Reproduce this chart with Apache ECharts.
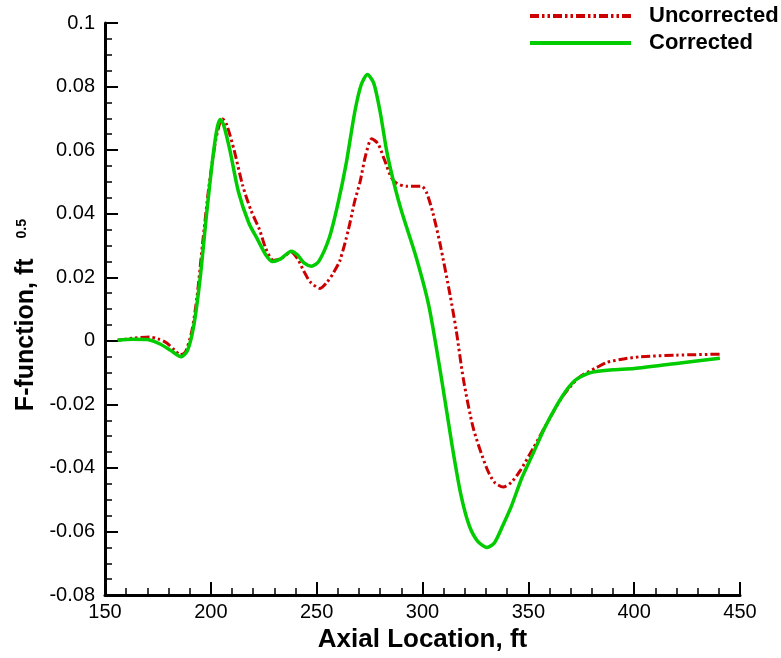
<!DOCTYPE html>
<html>
    <head>
        <meta charset="utf-8">
        <title>F-function</title>
        <script src="https://cdn.jsdelivr.net/npm/echarts@6/dist/echarts.min.js"></script>
        <style>
            body { margin: 0; background: #fff; }
            #chart1 { width: 781px; height: 658px; }
        </style>
    </head>
    <body>
        <div id="chart1"></div>
    </body>

    <script type="text/javascript">
        // values (axial location in ft, F-function)
        var correctedX = [156, 163, 170, 176, 181, 186, 189, 192, 195, 198, 201, 203, 204.5, 206, 209, 213, 218, 222, 226, 229,
            233, 238, 241, 244, 247.5, 251, 256, 260, 264, 268, 271, 274, 277, 280, 283, 286, 290, 297, 303, 309,
            314, 318, 322, 326, 330.5, 334, 338, 342, 347, 352, 358, 366, 372, 378, 383, 390, 400, 420, 440.5];
        var correctedY = [0.0002, 0.0005, 0.0004, -0.001, -0.003, -0.005, -0.003, 0.005, 0.020, 0.040, 0.058, 0.067, 0.0696, 0.068, 0.060, 0.047, 0.037, 0.032, 0.027, 0.025,
            0.0258, 0.0282, 0.027, 0.0245, 0.0235, 0.025, 0.0325, 0.043, 0.056, 0.072, 0.0805, 0.0838, 0.081, 0.072, 0.060, 0.051, 0.041, 0.0263, 0.011, -0.012,
            -0.033, -0.048, -0.058, -0.063, -0.065, -0.0635, -0.058, -0.052, -0.043, -0.0358, -0.027, -0.0175, -0.0125, -0.0103, -0.0096, -0.0091, -0.0087, -0.0071, -0.0055];

        var uncorrectedX = [156, 163, 171, 175, 179, 183, 185.5, 188, 191, 193.5, 196, 199, 202, 204, 205.6, 207.5, 211, 215, 219, 223,
            226, 229.5, 233, 238, 241, 243.7, 247, 251.6, 255, 258, 261, 265, 268, 270.5, 273, 276, 279, 282, 285.4, 288,
            292.5, 299.6, 302, 305, 308.3, 313, 316, 319.3, 324, 330.3, 334, 338.2, 342, 346, 352.3, 360, 366.5, 374, 382.3, 387,
            395, 402.8, 420, 440.5];
        var uncorrectedY = [0.0002, 0.0008, 0.0012, 0.0006, -0.0006, -0.003, -0.0044, -0.0035, 0.003, 0.014, 0.030, 0.048, 0.062, 0.068, 0.0698, 0.068, 0.060, 0.049, 0.041, 0.035,
            0.029, 0.0253, 0.0258, 0.0279, 0.0258, 0.0222, 0.0185, 0.0165, 0.0185, 0.0215, 0.0253, 0.035, 0.044, 0.050, 0.058, 0.0636, 0.062, 0.057, 0.0512, 0.0495,
            0.0486, 0.0486, 0.0465, 0.040, 0.0305, 0.0145, 0.003, -0.012, -0.0275, -0.040, -0.0445, -0.046, -0.0445, -0.041, -0.0338, -0.0245, -0.0172, -0.0115, -0.0084, -0.0068,
            -0.0057, -0.005, -0.0045, -0.0042];

        function pairs(xs, ys) {
            return xs.map(function (x, i) { return [x, ys[i]]; });
        }

        var font = '"Liberation Sans", Arial, Helvetica, sans-serif';
        var myChart1 = echarts.init(document.getElementById('chart1'));

        myChart1.setOption({
            animation: false,
            textStyle: { fontFamily: font },
            grid: { left: 105, right: 41, top: 23, bottom: 56 },
            legend: {
                orient: 'vertical',
                left: 523,
                top: 0,
                itemWidth: 101,
                itemHeight: 14,
                itemGap: 5,
                itemStyle: { opacity: 0 },
                lineStyle: { width: 4 },
                textStyle: { fontSize: 22, fontWeight: 'bold', color: '#000', fontFamily: font, lineHeight: 22, padding: [0, 0, 0, 13] },
                data: ['Uncorrected', 'Corrected']
            },
            xAxis: {
                type: 'value',
                min: 150,
                max: 450,
                interval: 50,
                name: 'Axial Location, ft',
                nameLocation: 'middle',
                nameGap: 25,
                nameTextStyle: { fontSize: 26, fontWeight: 'bold', color: '#000', fontFamily: font },
                axisLine: { onZero: false, lineStyle: { color: '#000', width: 3 } },
                axisTick: { inside: true, length: 13, lineStyle: { color: '#000', width: 2 } },
                minorTick: { show: true, splitNumber: 5, length: 7, lineStyle: { color: '#000', width: 1.5 } },
                axisLabel: { fontSize: 20, color: '#000', margin: 7, fontFamily: font },
                splitLine: { show: false }
            },
            yAxis: {
                type: 'value',
                min: -0.08,
                max: 0.1,
                interval: 0.02,
                name: '{t|F-function, ft}{s|0.5}',
                nameLocation: 'middle',
                nameGap: 65,
                nameRotate: 90,
                nameTextStyle: {
                    color: '#000',
                    rich: {
                        t: { fontSize: 25, fontWeight: 'bold', fontFamily: font, color: '#000' },
                        s: { fontSize: 14, fontWeight: 'bold', fontFamily: font, color: '#000', padding: [0, 12, 8, 20] }
                    }
                },
                axisLine: { onZero: false, lineStyle: { color: '#000', width: 3 } },
                axisTick: { inside: true, length: 13, lineStyle: { color: '#000', width: 2 } },
                minorTick: { show: true, splitNumber: 4, length: 7, lineStyle: { color: '#000', width: 1.5 } },
                axisLabel: {
                    fontSize: 20, color: '#000', margin: 10, fontFamily: font,
                    formatter: function (v) { return String(+v.toFixed(3)); }
                },
                splitLine: { show: false }
            },
            series: [{
                name: 'Uncorrected',
                type: 'line',
                data: pairs(uncorrectedX, uncorrectedY),
                symbol: 'none',
                smooth: 0.25,
                z: 3,
                lineStyle: { color: '#cc0000', width: 3, type: [9, 3, 2.5, 3, 2.5, 3] },
                itemStyle: { color: '#cc0000' }
            }, {
                name: 'Corrected',
                type: 'line',
                data: pairs(correctedX, correctedY),
                symbol: 'none',
                smooth: 0.25,
                z: 4,
                lineStyle: { color: '#00cc00', width: 3.5, type: 'solid' },
                itemStyle: { color: '#00cc00' }
            }]
        });
    </script>
</html>
